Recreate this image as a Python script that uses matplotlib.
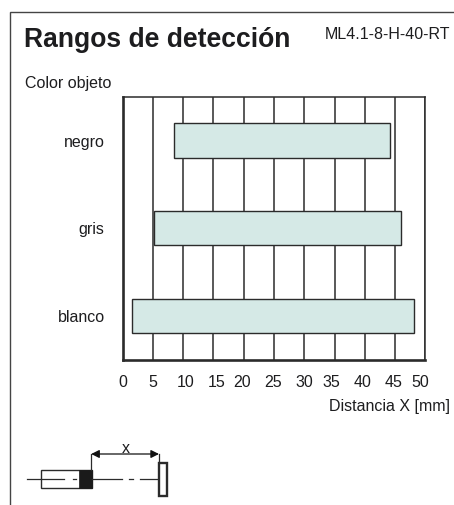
import matplotlib
matplotlib.use("Agg")
import matplotlib.pyplot as plt
from matplotlib.transforms import ScaledTranslation

plt.rcParams["font.family"] = ["Liberation Sans", "DejaVu Sans"]

# ----------------------------- DATA -----------------------------
categories = ["blanco", "gris", "negro"]
range_start = [1.5, 5.1, 8.5]
range_end = [48.1, 46.0, 44.1]
x_ticks = [0, 5, 10, 15, 20, 25, 30, 35, 40, 45, 50]

W, H = 454, 505
DARK = "#2b2b2b"
TEXT = "#1d1d1f"
BAR = "#d5e9e6"
LABEL_SIZE = 11.5

fig = plt.figure(figsize=(W / 100, H / 100), dpi=100, facecolor="white")

# overlay in pixel coords for the frame, texts and the sensor sketch
bg = fig.add_axes([0, 0, 1, 1])
bg.set_xlim(0, W)
bg.set_ylim(H, 0)
bg.axis("off")

bg.plot([10, 10, W], [H, 12, 12], color="#444444", lw=1.0, solid_joinstyle="miter")
bg.text(24, 37, "Rangos de detección", fontsize=19.1, fontweight="bold", color=TEXT, ha="left", va="center_baseline")
bg.text(325, 33, "ML4.1-8-H-40-RT", fontsize=LABEL_SIZE, color=TEXT, ha="left", va="center_baseline")
bg.text(25, 82, "Color objeto", fontsize=LABEL_SIZE, color=TEXT, ha="left", va="center_baseline")
bg.text(450, 405, "Distancia X [mm]", fontsize=LABEL_SIZE, color=TEXT, ha="right", va="center_baseline")

# ----------------------------- CHART -----------------------------
left, right, top, bottom = 122.7, 425.3, 96.7, 360
ax = fig.add_axes([left / W, 1 - bottom / H, (right - left) / W, (bottom - top) / H])
ax.set_xlim(0, 50)
ax.set_ylim(-0.5, 2.5)
ax.set_axisbelow(True)
ax.set_xticks(x_ticks)
ax.grid(axis="x", color=DARK, lw=1.1)
y = list(range(len(categories)))
widths = [e - s for s, e in zip(range_start, range_end)]
ax.barh(y, widths, left=range_start, height=0.39, color=BAR, edgecolor=DARK, lw=1.0, zorder=3)
ax.set_yticks(y, categories)
ax.tick_params(axis="both", length=0, labelsize=LABEL_SIZE, labelcolor=TEXT)
ax.tick_params(axis="x", pad=11)
ax.tick_params(axis="y", pad=13)
for name, lw in [("left", 1.9), ("bottom", 1.9), ("top", 1.1), ("right", 1.1)]:
    ax.spines[name].set_linewidth(lw)
    ax.spines[name].set_color(DARK)

# the tick labels sit a little off their grid lines in the original
label_shift_px = [0, 0, 2, 3.5, -1.5, -1, 0, -3.5, -2.5, -1, -5]
for lab, dx in zip(ax.get_xticklabels(), label_shift_px):
    lab.set_transform(lab.get_transform() + ScaledTranslation(dx / 100, 0, fig.dpi_scale_trans))

# ----------------------------- SENSOR SKETCH -----------------------------
line_y = 479
for x0, x1 in [(26.7, 64), (72.7, 76), (91.7, 121.7), (129, 132.7), (140, 158)]:
    bg.plot([x0, x1], [line_y, line_y], color=DARK, lw=0.9)
bg.add_patch(plt.Rectangle((40.7, 470), 51, 18, fill=False, edgecolor=DARK, lw=1.0))
bg.add_patch(plt.Rectangle((79.3, 470), 12.4, 18, facecolor="#1a1a1a", edgecolor="#1a1a1a", lw=0.5))
bg.add_patch(plt.Rectangle((159, 463), 8, 32.5, facecolor="white", edgecolor=DARK, lw=1.7))
bg.plot([91.2, 91.2], [454, 470], color=DARK, lw=0.9)
bg.plot([159, 159], [454, 463], color=DARK, lw=0.9)
bg.annotate("", xy=(91.2, 454), xytext=(159, 454),
            arrowprops=dict(arrowstyle="<|-|>", color="#111111", lw=0.9, mutation_scale=12, shrinkA=0, shrinkB=0))
bg.text(125.5, 447, "x", fontsize=11.5, color=TEXT, ha="center", va="center_baseline")

fig.savefig("out.png", dpi=100)
